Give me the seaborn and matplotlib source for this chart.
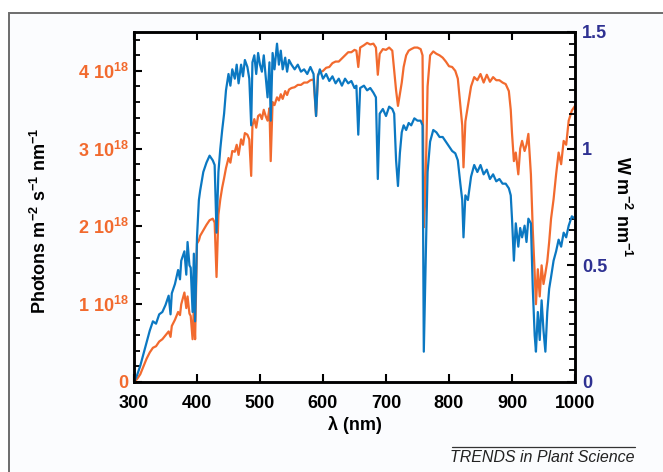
import matplotlib
matplotlib.use("Agg")
import matplotlib.pyplot as plt
from matplotlib.patches import Rectangle
from matplotlib.lines import Line2D
from matplotlib.ticker import MultipleLocator, FixedLocator, FuncFormatter
import seaborn as sns

sns.set_theme(style="ticks")
plt.rcParams["font.family"] = ["Liberation Sans", "DejaVu Sans"]
plt.rcParams["mathtext.fontset"] = "custom"
plt.rcParams["mathtext.rm"] = "Liberation Sans:bold"
plt.rcParams["mathtext.bf"] = "Liberation Sans:bold"
plt.rcParams["mathtext.default"] = "rm"
plt.rcParams.update({"text.color": "black", "axes.labelcolor": "black",
                     "xtick.color": "black", "ytick.color": "black"})

# solar spectrum
wavelength_nm = [
    300, 305, 310, 315, 320, 325, 330, 335, 340, 345,
    350, 355, 358, 360, 365, 370, 373, 375, 380, 383,
    385, 388, 390, 393, 395, 397, 400, 403, 405, 410,
    415, 420, 425, 428, 431, 434, 437, 440, 443, 446,
    450, 453, 456, 460, 463, 466, 470, 473, 476, 480,
    483, 486, 488, 491, 494, 497, 500, 503, 506, 509,
    512, 515, 517, 520, 523, 527, 530, 533, 536, 540,
    543, 546, 550, 555, 560, 565, 570, 575, 580, 585,
    589, 592, 595, 600, 605, 610, 615, 620, 625, 630,
    635, 640, 645, 650, 653, 656, 659, 665, 670, 675,
    680, 684, 687, 690, 695, 700, 705, 710, 713, 716,
    719, 722, 725, 728, 732, 736, 740, 745, 750, 755,
    758, 760, 762, 764, 766, 770, 775, 780, 785, 790,
    795, 800, 805, 810, 814, 818, 821, 823, 826, 830,
    835, 840, 845, 850, 855, 860, 865, 870, 875, 880,
    885, 890, 895, 898, 900, 903, 906, 910, 913, 916,
    920, 923, 926, 930, 933, 936, 938, 941, 944, 947,
    950, 953, 956, 959, 962, 966, 970, 974, 978, 982,
    986, 990, 995, 1000,
]

# W m-2 nm-1
irradiance_w = [
    0.00, 0.03, 0.07, 0.12, 0.17, 0.22, 0.26, 0.25, 0.29, 0.30,
    0.33, 0.37, 0.29, 0.38, 0.42, 0.48, 0.44, 0.52, 0.56, 0.46,
    0.60, 0.50, 0.49, 0.30, 0.55, 0.26, 0.62, 0.78, 0.82, 0.90,
    0.94, 0.97, 0.95, 0.93, 0.64, 0.90, 1.00, 1.08, 1.15, 1.25,
    1.32, 1.27, 1.34, 1.30, 1.36, 1.28, 1.36, 1.31, 1.38, 1.35,
    1.30, 1.10, 1.37, 1.40, 1.32, 1.41, 1.36, 1.33, 1.40, 1.31,
    1.22, 1.37, 1.12, 1.41, 1.34, 1.45, 1.36, 1.42, 1.34, 1.39,
    1.33, 1.38, 1.36, 1.34, 1.36, 1.33, 1.34, 1.32, 1.35, 1.32,
    1.14, 1.31, 1.34, 1.30, 1.32, 1.29, 1.31, 1.28, 1.30, 1.27,
    1.30, 1.28, 1.29, 1.26, 1.27, 1.06, 1.26, 1.27, 1.25, 1.26,
    1.24, 1.22, 0.87, 1.15, 1.17, 1.14, 1.18, 1.17, 1.15, 0.95,
    0.84, 0.98, 1.07, 1.10, 1.08, 1.11, 1.10, 1.13, 1.12, 1.12,
    1.10, 0.13, 0.40, 0.65, 0.90, 1.03, 1.08, 1.07, 1.05, 1.05,
    1.03, 1.01, 0.99, 0.98, 0.95, 0.85, 0.78, 0.62, 0.80, 0.78,
    0.88, 0.93, 0.90, 0.93, 0.89, 0.91, 0.87, 0.89, 0.86, 0.87,
    0.85, 0.85, 0.83, 0.80, 0.70, 0.52, 0.68, 0.58, 0.66, 0.62,
    0.67, 0.60, 0.70, 0.68, 0.40, 0.20, 0.13, 0.30, 0.18, 0.35,
    0.22, 0.13, 0.30, 0.40, 0.45, 0.52, 0.56, 0.61, 0.58, 0.64,
    0.62, 0.67, 0.71, 0.70,
]

# photons m-2 s-1 nm-1, in units of 10^18
photons_e18 = [
    0.00, 0.04, 0.10, 0.20, 0.30, 0.38, 0.44, 0.46, 0.52, 0.55,
    0.60, 0.65, 0.58, 0.72, 0.80, 0.90, 0.86, 1.00, 1.15, 0.95,
    1.10, 0.88, 0.85, 0.55, 0.95, 0.55, 1.78, 1.82, 1.88, 1.95,
    2.02, 2.08, 2.10, 2.05, 1.35, 2.15, 2.35, 2.50, 2.62, 2.75,
    2.88, 2.82, 2.97, 2.96, 3.05, 2.92, 3.12, 3.05, 3.20, 3.18,
    3.12, 2.65, 3.30, 3.38, 3.27, 3.42, 3.44, 3.38, 3.50, 3.42,
    3.36, 3.52, 2.84, 3.60, 3.56, 3.66, 3.62, 3.70, 3.64, 3.74,
    3.69, 3.76, 3.78, 3.79, 3.82, 3.82, 3.85, 3.85, 3.88, 3.89,
    3.42, 3.95, 3.98, 4.00, 4.04, 4.05, 4.10, 4.12, 4.12, 4.16,
    4.20, 4.24, 4.24, 4.27, 4.26, 4.05, 4.30, 4.33, 4.36, 4.34,
    4.35, 4.30, 3.95, 4.22, 4.28, 4.27, 4.30, 4.26, 4.00, 3.75,
    3.55, 3.70, 3.85, 4.05, 4.20, 4.26, 4.28, 4.30, 4.30, 4.28,
    4.20, 1.99, 2.30, 3.00, 3.80, 4.20, 4.25, 4.22, 4.20, 4.17,
    4.12, 4.06, 4.05, 4.00, 3.90, 3.55, 3.30, 2.76, 3.35, 3.55,
    3.80, 3.92, 3.88, 3.96, 3.85, 3.95, 3.86, 3.92, 3.88, 3.88,
    3.85, 3.83, 3.74, 3.50, 3.20, 2.84, 2.95, 2.67, 3.00, 3.10,
    2.97, 3.05, 3.19, 2.67, 1.95, 1.40, 1.00, 1.45, 1.10, 1.50,
    1.26, 1.40, 1.55, 1.80, 2.10, 2.35, 2.67, 2.95, 2.80, 3.10,
    3.05, 3.36, 3.49, 3.55,
]

photon_ticks = [0, 1, 2, 3, 4]
watt_ticks = [0, 0.5, 1, 1.5]

orange = "#F26A2E"
blue = "#0B78C2"
navy = "#2E3192"

fig = plt.figure(figsize=(6.63, 4.72), dpi=100)
fig.patch.set_facecolor("white")

# grey frame round the figure
frame = Rectangle((9 / 663, -0.05), 1.0, 1 - 13 / 472 + 0.05,
                  transform=fig.transFigure, facecolor="#fbfcfe",
                  edgecolor="#6d6d6d", linewidth=1.4, zorder=-10)
fig.patches.append(frame)

ax = fig.add_axes([134 / 663, 90 / 472, 441 / 663, 350 / 472])
ax.set_facecolor("white")
ax2 = ax.twinx()

sns.lineplot(x=wavelength_nm, y=photons_e18, ax=ax, color=orange,
             linewidth=1.6, sort=False, estimator=None)
sns.lineplot(x=wavelength_nm, y=irradiance_w, ax=ax2, color=blue,
             linewidth=1.6, sort=False, estimator=None)

ax.set_xlim(300, 1000)
ax.set_ylim(0, 4.5)
ax2.set_ylim(0, 1.5)

ax.xaxis.set_major_locator(MultipleLocator(100))
ax.yaxis.set_major_locator(FixedLocator(photon_ticks))
ax.yaxis.set_minor_locator(MultipleLocator(0.2))
ax.yaxis.set_major_formatter(FuncFormatter(
    lambda v, pos: "0" if v == 0 else f"{int(v)} 10$^{{18}}$"))
ax2.yaxis.set_major_locator(FixedLocator(watt_ticks))
ax2.yaxis.set_minor_locator(MultipleLocator(0.05))
ax2.yaxis.set_major_formatter(FuncFormatter(lambda v, pos: f"{v:g}"))

ax.tick_params(axis="x", which="major", direction="in", length=6, width=1.5,
               top=True, labelsize=13, pad=9)
ax.tick_params(axis="y", which="major", direction="in", length=6, width=1.5,
               labelsize=13, labelcolor=orange, pad=4)
ax.tick_params(axis="y", which="minor", direction="in", length=4, width=1.3)
ax2.tick_params(axis="y", which="major", direction="in", length=6, width=1.5,
                labelsize=13, labelcolor=navy, pad=5)
ax2.tick_params(axis="y", which="minor", direction="in", length=4, width=1.3)

for lab in ax.get_xticklabels() + ax.get_yticklabels() + ax2.get_yticklabels():
    lab.set_fontweight("bold")

for a in (ax, ax2):
    for s in a.spines.values():
        s.set_linewidth(1.8)
        s.set_color("black")

ax.set_xlabel("λ (nm)", fontsize=13, fontweight="bold", labelpad=3)
ax.set_ylabel("Photons m$^{-2}$ s$^{-1}$ nm$^{-1}$", fontsize=13,
              fontweight="bold")
ax.yaxis.set_label_coords(-0.19, 0.46)
ax2.set_ylabel("W m$^{-2}$ nm$^{-1}$", fontsize=13, fontweight="bold",
               rotation=270, va="bottom")
ax2.yaxis.set_label_coords(1.085, 0.5)

# journal footer
fig.lines.append(Line2D([452 / 663, 635 / 663], [1 - 447 / 472, 1 - 447 / 472],
                        transform=fig.transFigure, color="#333333", linewidth=0.9))
fig.text(635 / 663, 1 - 457 / 472, "TRENDS in Plant Science", ha="right",
         va="center", fontsize=11.5, style="italic", color="#222222")

fig.savefig("out.png", dpi=100)
